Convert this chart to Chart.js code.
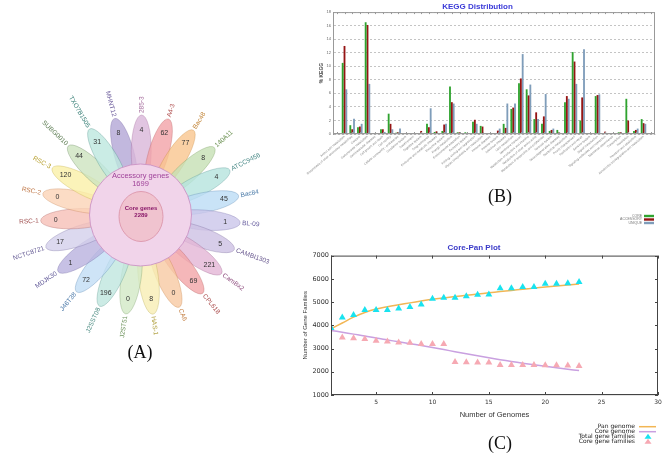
<!DOCTYPE html>
<html>
<head>
<meta charset="utf-8">
<script src="https://cdn.jsdelivr.net/npm/chart.js@4.4.0/dist/chart.umd.min.js"></script>
<style>
    body { margin: 0; background: #fff; width: 669px; height: 453px; position: relative; overflow: hidden; }
    canvas { position: absolute; }
    .cap { position: absolute; font-family: "Liberation Serif", "Times New Roman", serif; font-size: 18px; color: #111; transform: translate(-50%, -50%); }
</style>
</head>
<body>
<canvas id="flowerChart" width="281" height="300" style="left:0;top:65px"></canvas>
<canvas id="keggChart" width="369" height="230" style="left:300px;top:0"></canvas>
<canvas id="corePanChart" width="379" height="217" style="left:290px;top:236px"></canvas>
<div class="cap" style="left:140px;top:352px">(A)</div>
<div class="cap" style="left:500px;top:196px">(B)</div>
<div class="cap" style="left:500px;top:443px">(C)</div>
<script>
// (A) flower: strains clockwise from the top petal
const strains = ['MHNT12', '285-3', 'A4-3', 'Bac48', '140A11', 'ATCC9456', 'Bac84', 'BL-09', 'CAMBI1303', 'CamBx2', 'CPL618', 'CA6',
    'HAS-1', 'J2ST51', 'J2SST08', 'J46T38', 'MDJK30', 'NCTC8721', 'RSC-1', 'RSC-2', 'RSC-3', 'SUBG0010', 'TXO7B1505'];
const uniqueGenes = [8, 4, 62, 77, 8, 4, 45, 1, 5, 221, 69, 0, 8, 0, 196, 72, 1, 17, 0, 0, 120, 44, 31];
const accessoryGenes = 1699;
const coreGenes = 2289;

// (B) KEGG distribution (% of genes)
const keggCategories = ['Amino acid metabolism', 'Biosynthesis of other secondary metabolites', 'Cancers', 'Carbohydrate metabolism',
    'Cardiovascular diseases', 'Cell growth and death', 'Cell motility', 'Cellular community - prokaryotes', 'Circulatory system',
    'Development', 'Digestive system', 'Drug resistance', 'Endocrine and metabolic diseases', 'Endocrine system', 'Energy metabolism',
    'Environmental adaptation', 'Excretory system', 'Folding, sorting and degradation', 'Glycan biosynthesis and metabolism',
    'Immune diseases', 'Immune system', 'Infectious diseases', 'Lipid metabolism', 'Membrane transport',
    'Metabolism of cofactors and vitamins', 'Metabolism of other amino acids', 'Metabolism of terpenoids and polyketides',
    'Nervous system', 'Neurodegenerative diseases', 'Nucleotide metabolism', 'Poorly characterized', 'Replication and repair',
    'Sensory system', 'Signal transduction', 'Signaling molecules and interaction', 'Substance dependence', 'Transcription',
    'Translation', 'Transport and catabolism', 'Xenobiotics biodegradation and metabolism'];
const keggCore = [10.5, 1.3, 1.0, 16.5, 0, 0.7, 3.0, 0.2, 0, 0, 0.15, 1.5, 0.3, 0.45, 7.0, 0.25, 0.25, 1.8, 1.2, 0.15,
    0, 1.5, 3.7, 7.5, 6.6, 2.2, 1.5, 0.45, 0.6, 4.7, 12.1, 2.0, 0, 5.6, 0, 0, 0.25, 5.2, 0.45, 2.2];
const keggAccessory = [13.0, 0.7, 1.1, 16.1, 0, 0.7, 1.5, 0.3, 0, 0, 0.45, 1.0, 0.4, 1.4, 4.7, 0.25, 0, 2.1, 1.1, 0.15,
    0.5, 0.9, 3.9, 8.2, 5.7, 3.2, 2.6, 0.6, 0.25, 5.6, 10.7, 5.4, 0, 5.75, 0.35, 0, 0.25, 2.0, 0.6, 1.6];
const keggUnique = [6.6, 2.25, 1.5, 7.4, 0, 0.3, 0.7, 0.8, 0, 0, 0, 3.8, 0, 1.5, 4.5, 0, 0, 1.5, 0, 0,
    0.8, 4.5, 4.5, 11.8, 7.3, 2.2, 5.9, 0.8, 0, 5.2, 7.4, 12.5, 0, 5.85, 0, 0, 0, 0, 0.8, 1.5];
const keggTicks = [0, 2, 4, 6, 8, 10, 12, 14, 16, 18];

// (C) core-pan plot
const genomes = [1, 2, 3, 4, 5, 6, 7, 8, 9, 10, 11, 12, 13, 14, 15, 16, 17, 18, 19, 20, 21, 22, 23];
const totalFamilies = [3880, 4340, 4440, 4655, 4655, 4655, 4725, 4785, 4900, 5145, 5190, 5190, 5245, 5315, 5330, 5590, 5590,
    5645, 5645, 5790, 5790, 5805, 5865];
const coreFamilies = [3880, 3475, 3445, 3405, 3330, 3300, 3260, 3245, 3200, 3190, 3190, 2425, 2410, 2395, 2395, 2295, 2295,
    2295, 2295, 2280, 2280, 2265, 2250];
const panGenomeFit = [3850, 4100, 4350, 4550, 4700, 4800, 4885, 4965, 5045, 5120, 5180, 5235, 5290, 5345, 5400, 5450, 5500,
    5550, 5600, 5645, 5690, 5735, 5775];
const coreGenomeFit = [3780, 3700, 3620, 3540, 3450, 3370, 3290, 3210, 3130, 3045, 2955, 2865, 2775, 2685, 2600, 2520, 2445,
    2370, 2300, 2235, 2170, 2110, 2050];

const petalFill = ['#b3a6d6', '#d9b6d9', '#f3a3a8', '#f9c58f', '#c5e0b4', '#b5e3dd', '#bcdcf5', '#cbc5ea', '#cdc0e3', '#e3b5d6',
    '#f3a5a8', '#f7c9a2', '#f8eeb4', '#d2e8c6', '#bfe6de', '#c2ddf5', '#b9b2df', '#d3cfeb', '#f6bfb6', '#fbd3b6', '#faf0a8',
    '#cde3bf', '#bde7df'];
const petalText = ['#6a5a9a', '#9a5a90', '#b05050', '#c08030', '#6a9050', '#4a8a88', '#4a7aa8', '#6a60a0', '#6a5a90', '#905080',
    '#a84848', '#c07838', '#b0a040', '#6a9058', '#4a8a80', '#4a78a8', '#605898', '#6a6098', '#a05050', '#c07848', '#b8a030',
    '#5a7a50', '#3a8078'];

const sans = '"Liberation Sans", Arial, sans-serif';

const flowerPlugin = {
    id: 'flower',
    afterDraw(chart) {
        const { ctx, scales: { x, y } } = chart;
        const unit = x.getPixelForValue(1) - x.getPixelForValue(0);
        const at = (r, deg) => {
            const a = deg * Math.PI / 180;
            return [x.getPixelForValue(r * Math.cos(a)), y.getPixelForValue(-r * Math.sin(a))];
        };
        const step = 360 / strains.length;
        const first = 255;
        ctx.save();

        strains.forEach((s, i) => {
            const deg = first + i * step;
            const [cx, cy] = at(64, deg);
            ctx.beginPath();
            ctx.ellipse(cx, cy, 36 * unit, 10 * unit, deg * Math.PI / 180, 0, Math.PI * 2);
            ctx.globalAlpha = 0.8;
            ctx.fillStyle = petalFill[i];
            ctx.fill();
            ctx.globalAlpha = 0.5;
            ctx.strokeStyle = petalText[i];
            ctx.lineWidth = 0.6;
            ctx.stroke();
        });
        ctx.globalAlpha = 1;

        const [ox, oy] = at(0, 0);
        ctx.beginPath();
        ctx.arc(ox, oy, 51 * unit, 0, Math.PI * 2);
        ctx.fillStyle = '#f1d4ea';
        ctx.fill();
        ctx.strokeStyle = '#c68cc0';
        ctx.lineWidth = 0.8;
        ctx.stroke();

        ctx.beginPath();
        ctx.ellipse(ox + 0.5 * unit, oy + 1.5 * unit, 22 * unit, 25 * unit, 0, 0, Math.PI * 2);
        ctx.fillStyle = '#f0c3cf';
        ctx.fill();
        ctx.strokeStyle = '#d98fa5';
        ctx.stroke();

        ctx.textAlign = 'center';
        ctx.textBaseline = 'middle';
        ctx.fillStyle = '#a0449a';
        ctx.font = '7.5px ' + sans;
        ctx.fillText('Accessory genes', ox, y.getPixelForValue(39));
        ctx.fillText(String(accessoryGenes), ox, y.getPixelForValue(31.5));
        ctx.fillStyle = '#8a1a6a';
        ctx.font = 'bold 6px ' + sans;
        ctx.fillText('Core genes', ox + 0.5 * unit, y.getPixelForValue(6.5));
        ctx.fillText(String(coreGenes), ox + 0.5 * unit, y.getPixelForValue(-0.5));

        strains.forEach((s, i) => {
            const deg = first + i * step;
            const [nx, ny] = at(85, deg);
            ctx.font = '7px ' + sans;
            ctx.fillStyle = '#333';
            ctx.textAlign = 'center';
            ctx.fillText(String(uniqueGenes[i]), nx, ny);

            const [lx, ly] = at(102, deg);
            const a = deg * Math.PI / 180;
            const right = Math.cos(a) >= 0;
            ctx.save();
            ctx.translate(lx, ly);
            ctx.rotate(right ? a : a - Math.PI);
            ctx.textAlign = right ? 'left' : 'right';
            ctx.font = '6.5px ' + sans;
            ctx.fillStyle = petalText[i];
            ctx.fillText(s, 0, 0);
            ctx.restore();
        });
        ctx.restore();
    }
};

const framePlugin = {
    id: 'frame',
    afterDatasetsDraw(chart, args, opts) {
        const { ctx, chartArea: a, scales } = chart;
        ctx.save();
        ctx.strokeStyle = opts.color;
        ctx.lineWidth = 1;
        ctx.strokeRect(a.left + 0.5, a.top + 0.5, a.width - 1, a.height - 1);
        const len = opts.tick || 0;
        if (len) {
            ctx.beginPath();
            scales.x.ticks.forEach(t => {
                const px = Math.round(scales.x.getPixelForValue(t.value)) + 0.5;
                ctx.moveTo(px, a.top); ctx.lineTo(px, a.top + len);
                ctx.moveTo(px, a.bottom); ctx.lineTo(px, a.bottom - len);
            });
            if (opts.yTicks) {
                scales.y.ticks.forEach(t => {
                    const py = Math.round(scales.y.getPixelForValue(t.value)) + 0.5;
                    ctx.moveTo(a.left, py); ctx.lineTo(a.left + len, py);
                    ctx.moveTo(a.right, py); ctx.lineTo(a.right - len, py);
                });
            }
            ctx.stroke();
        }
        ctx.restore();
    }
};

const keggLegend = {
    id: 'keggLegend',
    afterDraw(chart) {
        const { ctx, chartArea } = chart;
        ctx.save();
        ctx.font = '3.5px ' + sans;
        ctx.textAlign = 'right';
        ctx.textBaseline = 'middle';
        chart.data.datasets.forEach((ds, i) => {
            const yy = 216 + i * 3.5;
            ctx.fillStyle = '#777';
            ctx.fillText(ds.label, chartArea.right - 13, yy);
            ctx.fillStyle = ds.backgroundColor;
            ctx.fillRect(chartArea.right - 11, yy - 1.2, 10, 2.4);
        });
        ctx.restore();
    }
};

const corePanLegend = {
    id: 'corePanLegend',
    afterDraw(chart) {
        const { ctx } = chart;
        ctx.save();
        ctx.font = '6px "DejaVu Sans", sans-serif';
        ctx.textAlign = 'right';
        ctx.textBaseline = 'middle';
        chart.data.datasets.forEach((ds, i) => {
            const yy = 190.7 + i * 5;
            ctx.fillStyle = '#222';
            ctx.fillText(ds.label, 345, yy);
            if (ds.showLine === false) {
                ctx.fillStyle = ds.backgroundColor;
                ctx.beginPath();
                ctx.moveTo(358, yy - 3);
                ctx.lineTo(361.5, yy + 2);
                ctx.lineTo(354.5, yy + 2);
                ctx.closePath();
                ctx.fill();
            } else {
                ctx.strokeStyle = ds.borderColor;
                ctx.lineWidth = 1.5;
                ctx.beginPath();
                ctx.moveTo(349, yy);
                ctx.lineTo(366, yy);
                ctx.stroke();
            }
        });
        ctx.restore();
    }
};

new Chart(document.getElementById('flowerChart'), {
    type: 'scatter',
    data: { datasets: [] },
    options: {
        responsive: false,
        animation: false,
        layout: { padding: 0 },
        plugins: { legend: { display: false }, tooltip: { enabled: false } },
        scales: {
            x: { type: 'linear', min: -140.5, max: 140.5, display: false },
            y: { type: 'linear', min: -150, max: 150, display: false }
        }
    },
    plugins: [flowerPlugin]
});

const toPoints = arr => arr.map((v, i) => ({ x: i + 1, y: v }));

new Chart(document.getElementById('keggChart'), {
    type: 'bar',
    data: {
        datasets: [
            { label: 'CORE', data: toPoints(keggCore), backgroundColor: '#2fa32f' },
            { label: 'ACCESSORY', data: toPoints(keggAccessory), backgroundColor: '#951414' },
            { label: 'UNIQUE', data: toPoints(keggUnique), backgroundColor: '#7f9dba' }
        ]
    },
    options: {
        responsive: false,
        animation: false,
        layout: { padding: { left: 0, right: 14, top: 0, bottom: 0 } },
        datasets: { bar: { barPercentage: 1, categoryPercentage: 0.72 } },
        plugins: {
            legend: { display: false },
            tooltip: { enabled: false },
            title: {
                display: true,
                text: 'KEGG Distribution',
                color: '#3a3ad8',
                font: { size: 8, family: sans },
                padding: { top: 1.5, bottom: 1 }
            },
            frame: { color: '#999', tick: 2 }
        },
        scales: {
            x: {
                type: 'linear',
                min: 0,
                max: keggCategories.length + 1,
                ticks: {
                    stepSize: 1,
                    autoSkip: false,
                    maxRotation: 40,
                    minRotation: 40,
                    padding: 1,
                    color: '#777',
                    font: { size: 3, family: sans },
                    callback: v => keggCategories[v - 1] || ''
                },
                grid: { display: false, drawTicks: false },
                afterFit: s => { s.height = 96; }
            },
            y: {
                min: keggTicks[0],
                max: keggTicks[keggTicks.length - 1],
                ticks: { stepSize: 2, padding: 2, color: '#666', font: { size: 4, family: sans } },
                grid: { color: '#c4c4c4', drawTicks: false },
                border: { color: '#999', dash: [2, 2] },
                title: {
                    display: true,
                    text: '% KEGG',
                    color: '#444',
                    font: { size: 5, weight: 'bold', family: sans },
                    padding: { top: 19, bottom: 0 }
                },
                afterFit: s => { s.width = 33; }
            }
        }
    },
    plugins: [framePlugin, keggLegend]
});

const toXY = arr => arr.map((v, i) => ({ x: genomes[i], y: v }));

new Chart(document.getElementById('corePanChart'), {
    type: 'line',
    data: {
        datasets: [
            { label: 'Pan genome', data: toXY(panGenomeFit), borderColor: '#f2b654', borderWidth: 1.5, pointRadius: 0, tension: 0.4, order: 2 },
            { label: 'Core genome', data: toXY(coreGenomeFit), borderColor: '#c9a0e0', borderWidth: 1.5, pointRadius: 0, tension: 0.4, order: 2 },
            { label: 'Total gene families', data: toXY(totalFamilies), showLine: false, pointStyle: 'triangle', pointRadius: 4,
              backgroundColor: '#19e3ef', borderColor: '#19e3ef', borderWidth: 0, order: 1 },
            { label: 'Core gene families', data: toXY(coreFamilies), showLine: false, pointStyle: 'triangle', pointRadius: 4,
              backgroundColor: '#f6a9b3', borderColor: '#f6a9b3', borderWidth: 0, order: 1 }
        ]
    },
    options: {
        responsive: false,
        animation: false,
        layout: { padding: { left: 0, right: 11, top: 0, bottom: 30 } },
        plugins: {
            legend: { display: false },
            tooltip: { enabled: false },
            title: {
                display: true,
                text: 'Core-Pan Plot',
                color: '#3a3ac8',
                font: { size: 8, family: sans },
                padding: { top: 7, bottom: 3 }
            },
            frame: { color: '#444', tick: 3, yTicks: true }
        },
        scales: {
            x: {
                type: 'linear',
                min: 1,
                max: 30,
                ticks: {
                    stepSize: 5,
                    padding: 4,
                    color: '#333',
                    font: { size: 6, family: '"DejaVu Sans", sans-serif' },
                    callback: v => (v % 5 === 0 ? String(v) : '')
                },
                grid: { display: false, drawTicks: false },
                title: {
                    display: true,
                    text: 'Number of Genomes',
                    color: '#333',
                    font: { size: 7.5, family: sans },
                    padding: { top: 0, bottom: 4 }
                },
                afterFit: s => { s.height = 28; }
            },
            y: {
                min: 1000,
                max: 7000,
                ticks: {
                    stepSize: 1000,
                    padding: 2,
                    color: '#333',
                    font: { size: 6.5, family: '"DejaVu Sans", sans-serif' },
                    callback: v => String(v)
                },
                grid: { display: false, drawTicks: false },
                title: {
                    display: true,
                    text: 'Number of Gene Families',
                    color: '#333',
                    font: { size: 6, family: sans },
                    padding: { top: 11.4, bottom: 0 }
                },
                afterFit: s => { s.width = 41; }
            }
        }
    },
    plugins: [framePlugin, corePanLegend]
});
</script>
</body>
</html>
